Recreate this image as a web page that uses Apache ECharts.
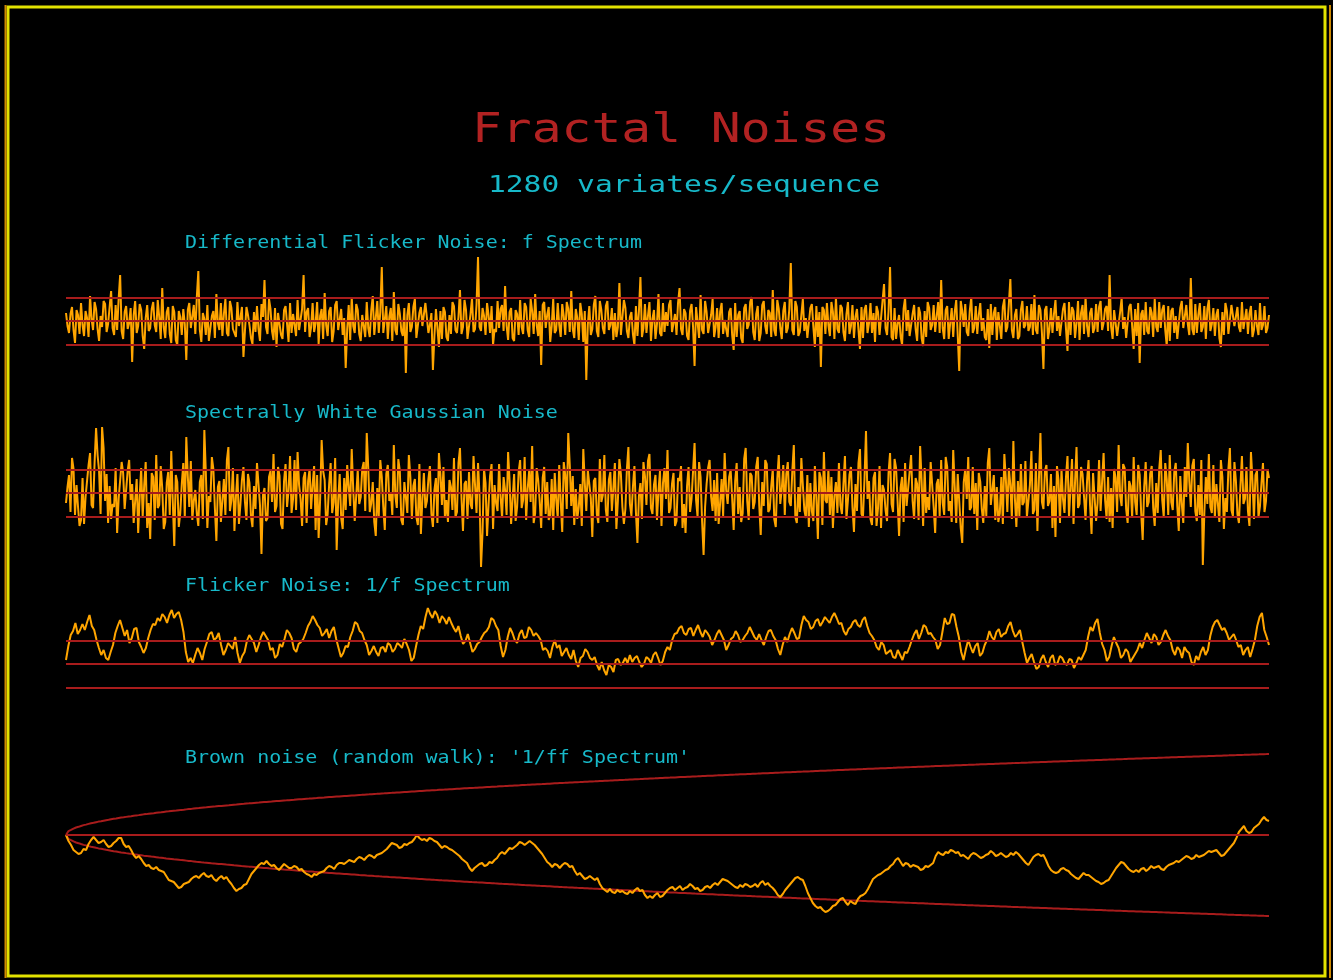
<!DOCTYPE html>
<html>
<head>
<meta charset="utf-8">
<title>Fractal Noises</title>
<script src="https://cdn.jsdelivr.net/npm/echarts/dist/echarts.min.js"></script>
<style>
  html, body { margin: 0; padding: 0; background: #000; }
  #chart { width: 1333px; height: 980px; }
</style>
</head>
<body>
<div id="chart"></div>
<script>
// Differential flicker noise (amplitude, sigma about 23.3)
const diffFlicker = [
  8,-5,-12,7,14,-9,-22,11,6,-13,18,-4,-15,10,3,-16,25,2,-9,19,12,-8,-20,5,-6,20,17,-11,-3,14,30,-7,-14,16,-9,22,46,-10,-18,9,
  15,-8,-2,13,-41,6,20,-12,-5,17,11,-15,-28,3,16,-10,-7,12,19,-4,-11,21,4,-18,33,-6,-17,9,14,-13,-22,15,9,-19,-24,10,4,-14,12,-3,
  -39,11,18,-7,-6,16,-13,24,50,-9,-21,8,2,-14,16,-20,-18,5,10,-17,27,-2,-9,18,-15,7,22,-12,-15,20,13,-8,-6,-16,19,-5,3,14,-36,-10,
  14,6,-4,-17,-23,9,-11,15,-8,-20,17,4,41,-6,-13,22,12,-10,-19,13,-26,8,6,-14,-18,11,15,-3,-21,18,-12,7,-4,-15,21,-9,-7,12,46,-11,
  9,13,-16,-6,18,-11,-2,19,-23,5,12,-18,28,-4,-15,10,14,-21,-10,16,20,-9,-7,12,-14,3,-47,-8,16,-19,24,-5,-12,17,11,-13,-20,6,8,-16,
  19,-7,-16,11,25,-14,3,20,-12,9,54,-12,-10,15,-18,4,13,-20,29,-9,-14,17,7,-10,-15,13,-52,6,18,-11,-6,14,22,-17,-19,8,14,-5,-3,18,
  17,-12,-4,8,-49,-15,12,-7,-26,10,-18,14,9,-16,-20,6,-13,19,15,-9,-12,4,31,-13,-6,21,11,-18,-17,7,23,-11,-8,16,64,-6,-10,13,5,-14,
  18,6,-12,15,-24,-8,-11,20,-7,12,16,-10,35,-5,-19,9,13,-17,-20,11,7,-14,21,-6,-13,18,14,-9,-16,22,10,-13,27,-4,-15,10,-44,16,19,-7,
  6,14,-21,-5,22,-12,-9,18,-4,-16,17,5,-14,19,12,-11,30,-8,-17,12,3,-19,18,7,-21,10,-59,-4,15,-14,-8,16,25,-10,-16,20,11,-7,-13,15,
  20,-9,-4,13,-19,8,-16,-6,38,-14,-12,21,13,-10,-17,4,9,-13,-24,15,-15,10,44,-16,-7,17,-12,5,19,-20,2,11,-18,-3,27,-12,-15,18,-11,9,
  -5,16,21,-11,-10,7,-14,18,33,-8,-14,12,8,-15,-19,10,17,-6,-45,14,12,-17,26,-9,-13,20,9,-12,-14,6,22,-16,-6,13,-17,9,18,-13,1,-8,
  -16,9,13,-14,-29,18,-16,6,10,-17,-22,13,17,-8,-4,19,24,-11,-19,7,15,-20,-12,16,20,-5,-13,11,8,-16,31,-9,-15,21,12,-7,-18,10,19,-12,
  -7,12,58,-9,-14,20,14,-15,-11,6,22,-10,3,-17,-18,13,17,-6,-26,15,-16,9,-46,14,11,-13,18,-4,-15,19,9,-18,24,-8,-12,16,13,-11,-20,7,
  19,-13,-5,16,-17,4,12,-9,-28,14,-17,11,16,-12,-2,18,-12,8,-21,15,9,-14,-15,20,37,-7,-14,10,54,-16,-19,13,-18,-3,6,-15,-24,12,23,-10,
  11,-15,-13,7,16,-8,-20,14,8,-17,-25,10,-16,19,13,-9,-4,16,-11,5,19,-12,41,-7,-18,11,15,-18,-2,13,-16,9,21,-14,-50,20,10,-6,17,-11,
  -15,10,24,-12,-7,15,-13,6,18,-10,3,-16,-19,12,-27,17,-14,8,14,-19,9,-5,-18,14,22,-11,-6,17,42,-9,-17,6,12,-18,-15,11,20,-7,-4,15,
  -10,-6,17,-14,26,-9,-13,16,11,-12,-48,11,15,-18,-8,13,-12,7,21,-10,5,-15,-17,12,18,-8,-30,19,-14,14,10,-17,-2,20,-19,8,16,-13,24,-5,
  -16,8,13,-12,-7,17,-11,14,20,-9,-2,12,15,-10,46,-6,-18,11,12,-15,-16,9,23,-8,4,-17,-19,14,17,-5,-28,12,-15,18,-42,7,11,-14,19,-10,
  -13,14,8,-16,22,-6,-11,19,-7,11,16,-9,-25,15,-20,10,13,-12,5,-18,-17,13,20,-7,-9,16,-3,-14,43,-8,-14,17,-12,6,18,-11,-6,15,-18,12,
  21,-10,-3,13,-15,6,12,-17,-26,9,-14,18,10,-13,-11,16,17,-5,-7,14,-6,-11,19,-8,2,12,-13,7,15,-16,-9,11,-5,-14,18,-9,-4,15,-12,-7,6
];

// Spectrally white Gaussian noise
const whiteNoise = [
  -10,6,18,-19,35,24,-22,8,-14,-33,-27,15,-31,-4,12,28,40,-12,-15,30,65,38,22,-21,66,45,-8,19,-30,7,-26,-11,-14,25,-40,-6,-5,31,20,-16,
  -18,22,33,-7,9,-30,-28,14,-40,-3,25,-24,8,31,-35,-10,-46,20,16,-27,38,-15,-12,27,5,-36,-29,10,21,-22,42,-8,-53,18,11,-34,-20,9,30,-25,
  56,17,-14,32,-27,-8,3,-21,-33,11,18,-26,63,20,-35,-3,-9,36,24,-15,-48,6,12,-29,-30,14,-22,33,46,-18,-7,25,-38,-4,19,-31,-11,13,26,-9,
  -27,19,10,-23,-34,7,-16,30,28,-12,-61,-2,5,-28,-25,16,22,-9,39,-19,-13,26,17,-31,-36,12,29,-14,2,37,-20,-6,33,-17,41,8,-6,-33,15,21,
  -30,12,24,-16,8,27,-37,18,-45,-6,53,22,13,-32,-21,9,30,-20,-9,35,-57,-8,19,-25,-36,15,-17,28,6,-13,44,4,-28,-30,23,-11,-4,24,31,-18,
  60,25,-19,-10,11,-29,-43,5,-24,33,16,-14,-37,19,28,-8,1,-22,48,-3,-15,34,22,-27,-32,11,9,-20,38,16,-26,7,14,-24,-32,29,-41,-6,20,-15,
  -8,14,27,-21,-34,3,15,-30,40,18,-12,26,-25,-7,-29,13,6,-17,35,-24,-19,30,45,-5,-38,9,12,-26,21,-11,-16,37,8,-20,30,-2,-74,-39,24,10,
  -43,-12,17,29,-36,8,-10,-18,29,-4,-25,16,3,-22,41,12,-31,-6,19,-28,-14,21,33,-15,-7,36,-27,4,22,-9,47,-30,-20,25,13,-8,-35,15,26,-21,
  11,-27,-22,14,-37,20,-7,-25,28,-9,-39,31,18,-16,60,28,-13,17,-32,4,-26,-14,9,-33,44,10,-18,23,24,-5,-44,12,15,-21,-30,34,-9,-2,38,-17,
  -29,13,21,-18,5,30,-36,-8,34,19,-14,-31,-16,24,46,-11,-23,6,27,-19,-50,-3,10,-26,31,17,-12,32,39,-15,-21,8,18,-27,2,22,-33,10,25,-6,
  43,-20,-15,9,20,-33,-28,15,12,27,-35,-11,-40,7,26,-19,-6,22,50,-7,-24,31,16,-28,-62,-14,9,25,33,-4,-18,13,-28,20,-31,-10,14,-23,40,3,
  -11,16,23,-5,-37,12,30,-21,6,-29,-20,34,45,-8,-27,20,17,-16,-9,26,36,-12,-42,11,-13,33,29,-19,-16,7,24,-26,-34,14,38,-11,4,28,-22,19,
  31,-9,-13,22,48,-24,-30,6,-19,35,8,-17,-25,18,-34,10,-18,-28,27,-5,-46,21,15,-32,41,-7,-10,24,-22,16,-35,-3,11,-20,30,-12,-21,9,37,-26,
  -7,18,26,-14,-39,9,-18,30,44,-21,-24,14,62,-6,12,-26,-32,15,21,-33,-15,27,-35,8,3,-17,-28,20,40,-11,-19,34,25,-8,-43,5,16,-29,30,-13,
  -12,21,38,-8,-26,15,9,-27,47,12,-33,25,-20,-4,-17,31,29,-14,-40,9,14,-23,33,-10,-22,36,26,-18,-8,-29,43,6,-30,19,18,-35,-50,11,24,-6,
  36,-17,-14,26,-21,10,-37,20,11,-16,-30,7,-23,30,45,-12,-10,18,-27,6,-29,-20,16,-31,39,14,-19,25,8,-26,52,-5,-34,12,-23,29,-12,-9,32,-24,
  -25,8,42,-21,-17,30,-38,14,60,-9,-16,22,28,-13,-8,19,-35,7,-44,27,13,-30,24,-6,-20,16,37,-24,5,34,-31,10,46,-15,-11,26,19,-4,-27,12,
  33,-12,-41,20,22,-28,-10,33,-18,11,40,-7,-26,16,-29,5,-35,24,15,-19,48,-3,-13,29,25,-16,-30,12,7,-25,36,-9,-22,28,18,-20,-47,6,31,-14,
  -9,19,27,-15,-33,10,-20,24,43,-7,-24,30,14,-22,38,-9,-17,21,30,-13,-38,17,-11,-30,26,-4,50,12,-14,27,34,-18,-28,8,-22,33,-72,-20,16,-11,
  39,-14,-20,28,-25,9,-11,-29,33,16,-36,-5,-19,24,45,-17,-23,31,12,-21,-30,7,37,-11,-6,26,-18,-33,41,13,-26,18,22,-24,-13,10,30,-19,-8,23,15
];

// Flicker noise, 1/f spectrum
const flicker = [
  4,18,29,33,41,30,34,40,34,42,49,38,34,24,16,9,14,6,4,12,
  19,31,38,44,36,28,34,21,26,35,36,22,17,11,16,26,34,40,39,46,
  43,50,47,41,49,54,46,50,52,44,32,12,2,6,1,9,16,11,4,15,
  22,30,32,24,26,31,19,9,14,21,18,15,27,11,1,8,12,23,29,25,
  21,12,19,27,32,28,24,14,16,6,9,20,17,25,34,31,26,15,12,20,
  22,25,31,38,42,48,44,39,36,28,31,35,26,33,37,25,16,7,11,18,
  17,27,33,42,40,33,31,24,19,9,13,18,12,8,16,17,12,21,19,12,
  15,21,19,16,25,20,14,3,6,18,29,38,35,47,56,50,46,53,49,41,
  48,45,40,47,41,36,32,38,28,20,23,30,21,12,15,20,22,27,31,33,
  37,46,44,38,34,18,7,14,27,36,31,24,21,30,34,26,27,37,34,28,
  31,28,24,14,16,13,6,17,24,16,19,8,12,16,9,5,14,3,-3,6,
  8,15,12,6,4,7,-1,-6,2,-6,-11,-1,-3,-8,4,5,-1,1,6,1,
  9,2,6,8,2,-3,0,7,5,1,9,12,6,-1,3,12,17,14,24,30,
  31,36,38,31,29,35,36,28,34,39,32,27,34,31,27,19,24,30,34,29,
  24,14,19,25,27,33,29,22,24,28,31,37,32,27,24,30,24,19,27,33,
  34,28,24,15,9,19,27,22,30,36,31,25,26,39,48,44,42,35,37,43,
  45,38,42,47,44,41,47,51,46,40,41,33,29,35,37,42,44,39,37,44,
  47,38,31,28,24,17,14,22,19,10,12,14,7,6,14,9,4,12,11,17,
  24,30,34,25,31,39,37,30,31,27,24,15,19,32,46,40,41,50,49,37,
  27,12,4,15,24,17,11,18,21,8,11,19,24,33,27,24,32,35,27,30,
  31,38,42,33,27,30,34,22,11,1,6,10,2,-5,-3,5,9,2,-3,6,
  9,-1,1,8,6,1,-1,5,4,-4,1,7,4,9,14,27,37,33,41,45,
  31,20,14,3,7,18,27,21,16,6,9,15,12,2,6,10,14,21,16,24,
  31,26,21,30,27,19,22,29,34,28,24,14,9,17,14,6,17,13,11,2,
  -1,8,4,12,17,9,14,28,37,42,44,39,34,36,31,24,27,30,24,17,
  19,9,14,17,7,15,24,38,47,51,34,27,19
];

// Brown noise (random walk)
const brown = [
  0,-6,-10,-15,-17,-19,-18,-14,-15,-9,-5,-2,-5,-8,-7,-5,-9,-12,-11,-8,
  -6,-3,-3,-9,-12,-11,-15,-20,-23,-21,-24,-28,-31,-30,-33,-34,-32,-35,-36,-37,
  -41,-45,-46,-47,-50,-53,-52,-49,-48,-47,-44,-42,-41,-43,-40,-38,-41,-42,-40,-44,
  -46,-43,-41,-44,-42,-46,-49,-53,-56,-54,-53,-50,-49,-44,-39,-36,-33,-30,-28,-29,
  -26,-29,-31,-30,-33,-35,-32,-29,-31,-33,-33,-31,-32,-35,-34,-37,-39,-40,-42,-39,
  -40,-38,-37,-36,-33,-31,-32,-34,-30,-28,-28,-29,-27,-25,-26,-27,-24,-22,-23,-25,
  -22,-20,-21,-23,-20,-19,-18,-16,-14,-11,-8,-9,-10,-13,-12,-9,-10,-8,-7,-4,
  0,-3,-5,-4,-6,-3,-4,-6,-7,-10,-13,-11,-12,-14,-15,-17,-19,-21,-24,-26,
  -28,-33,-36,-33,-31,-29,-28,-31,-30,-27,-28,-25,-23,-19,-17,-19,-16,-13,-14,-12,
  -10,-7,-8,-10,-8,-6,-8,-10,-13,-16,-19,-23,-27,-29,-32,-29,-30,-33,-30,-28,
  -29,-32,-31,-36,-40,-38,-41,-44,-43,-41,-43,-45,-43,-49,-53,-55,-57,-54,-57,-58,
  -55,-57,-56,-58,-59,-56,-58,-55,-53,-56,-55,-60,-63,-61,-63,-60,-58,-62,-61,-58,
  -55,-53,-52,-55,-53,-51,-55,-53,-52,-49,-51,-54,-53,-56,-55,-52,-51,-53,-50,-48,
  -50,-47,-44,-45,-46,-48,-50,-52,-53,-50,-52,-49,-50,-52,-51,-49,-52,-48,-46,-50,
  -48,-51,-53,-56,-60,-62,-59,-55,-52,-49,-46,-43,-42,-44,-45,-51,-58,-63,-68,-71,
  -73,-72,-75,-77,-76,-74,-71,-70,-67,-64,-63,-67,-70,-66,-68,-69,-64,-61,-60,-58,
  -54,-49,-44,-42,-40,-39,-37,-35,-34,-31,-29,-25,-23,-27,-31,-28,-29,-32,-30,-31,
  -32,-35,-34,-31,-32,-30,-28,-21,-17,-19,-20,-17,-18,-15,-16,-18,-17,-21,-20,-22,
  -24,-20,-18,-19,-21,-23,-22,-20,-19,-16,-18,-21,-20,-18,-20,-22,-21,-18,-20,-17,
  -19,-22,-25,-28,-30,-26,-22,-20,-19,-21,-20,-25,-31,-35,-37,-38,-37,-34,-33,-35,
  -36,-39,-41,-43,-44,-41,-38,-40,-40,-42,-44,-46,-47,-49,-48,-46,-45,-41,-37,-33,
  -30,-27,-28,-31,-34,-36,-37,-35,-37,-34,-33,-36,-34,-31,-33,-32,-31,-34,-35,-32,
  -30,-29,-28,-26,-27,-25,-23,-21,-22,-24,-23,-20,-22,-21,-20,-18,-16,-17,-16,-15,
  -18,-21,-20,-17,-14,-11,-8,-3,3,6,9,4,2,3,7,9,11,15,18,15,
  14
];

const SEQ_LEN = 1280;          // variates per sequence
const SIGMA = 23.3;            // one standard deviation, in amplitude units
const BROWN_STEP_SD = 2.265;   // step deviation of the random walk

const titleText = 'Fractal Noises';
const subtitleText = '1280 variates/sequence';
const panelTitles = [
  'Differential Flicker Noise: f Spectrum',
  'Spectrally White Gaussian Noise',
  'Flicker Noise: 1/f Spectrum',
  "Brown noise (random walk): '1/ff Spectrum'"
];

const FONT = '"DejaVu Sans Mono", "Liberation Mono", monospace';
const ORANGE = '#FFA500';
const RED = '#A81C1C';
const CYAN = '#17B9C9';
const TITLE_RED = '#B22222';

// sample number of each plotted value, spread over the whole sequence
function sampleIndex(n) {
  return Array.from({ length: n }, (_, k) => Math.round(k * (SEQ_LEN - 1) / (n - 1)));
}

const PLOT_LEFT = 66, PLOT_WIDTH = 1203;

const panels = [
  { data: diffFlicker, center: 321, lo: -78, hi: 78, guides: [SIGMA, 0, -SIGMA], width: 2 },
  { data: whiteNoise,  center: 493, lo: -78, hi: 78, guides: [SIGMA, 0, -SIGMA], width: 2 },
  { data: flicker,     center: 664, lo: -40, hi: 70, guides: [SIGMA, 0, -SIGMA], width: 2 },
  { data: brown,       center: 835, lo: -90, hi: 90, guides: [0], width: 2 }
];

const grid = [], xAxis = [], yAxis = [], series = [];
panels.forEach((p, i) => {
  const cats = sampleIndex(p.data.length);
  grid.push({ left: PLOT_LEFT, width: PLOT_WIDTH, top: p.center - p.hi, height: p.hi - p.lo });
  xAxis.push({ type: 'category', gridIndex: i, data: cats, boundaryGap: false, show: false });
  yAxis.push({ type: 'value', gridIndex: i, min: p.lo, max: p.hi, show: false });

  // red reference levels
  series.push({
    type: 'line', xAxisIndex: i, yAxisIndex: i, data: [], z: 1, silent: true,
    markLine: {
      silent: true, symbol: 'none', animation: false,
      label: { show: false },
      lineStyle: { color: RED, width: 2, type: 'solid' },
      data: p.guides.map(v => ({ yAxis: v }))
    }
  });

  if (i === 3) {
    // +/- one-sigma envelope of the random walk, sigma * sqrt(n)
    const env = cats.map(n => BROWN_STEP_SD * Math.sqrt(n));
    [1, -1].forEach(sign => series.push({
      type: 'line', xAxisIndex: i, yAxisIndex: i, z: 1, silent: true,
      symbol: 'none', animation: false,
      lineStyle: { color: RED, width: 2 },
      data: env.map(e => sign * e)
    }));
  }

  series.push({
    type: 'line', xAxisIndex: i, yAxisIndex: i, z: 3, silent: true,
    symbol: 'none', animation: false,
    lineStyle: { color: ORANGE, width: p.width },
    data: p.data
  });
});

const labelY = [244, 414, 587, 759];

const graphic = [
  // frame
  { type: 'rect', shape: { x: 8, y: 7, width: 1317, height: 969 },
    style: { fill: null, stroke: '#E2E200', lineWidth: 3 }, silent: true },
  { type: 'line', shape: { x1: 5.5, y1: 5, x2: 5.5, y2: 978 },
    style: { stroke: '#D08A00', lineWidth: 2 }, silent: true },
  { type: 'line', shape: { x1: 1330, y1: 5, x2: 1330, y2: 978 },
    style: { stroke: '#D08A00', lineWidth: 2 }, silent: true },
  // titles
  { type: 'text', x: 681, y: 132, scaleX: 1.24, silent: true,
    style: { text: titleText, fill: TITLE_RED, fontSize: 40, fontFamily: FONT,
             align: 'center', verticalAlign: 'middle', textAlign: 'center', textVerticalAlign: 'middle' } },
  { type: 'text', x: 684, y: 186, scaleX: 1.287, silent: true,
    style: { text: subtitleText, fill: CYAN, fontSize: 23, fontFamily: FONT,
             align: 'center', verticalAlign: 'middle', textAlign: 'center', textVerticalAlign: 'middle' } }
];
panelTitles.forEach((t, i) => graphic.push({
  type: 'text', x: 185, y: labelY[i], scaleX: 1.175, silent: true,
  style: { text: t, fill: CYAN, fontSize: 17, fontFamily: FONT,
           align: 'left', verticalAlign: 'middle', textAlign: 'left', textVerticalAlign: 'middle' }
}));

const chart = echarts.init(document.getElementById('chart'), null, { renderer: 'canvas' });
chart.setOption({
  backgroundColor: '#000',
  animation: false,
  grid, xAxis, yAxis, series, graphic
});
</script>
</body>
</html>
